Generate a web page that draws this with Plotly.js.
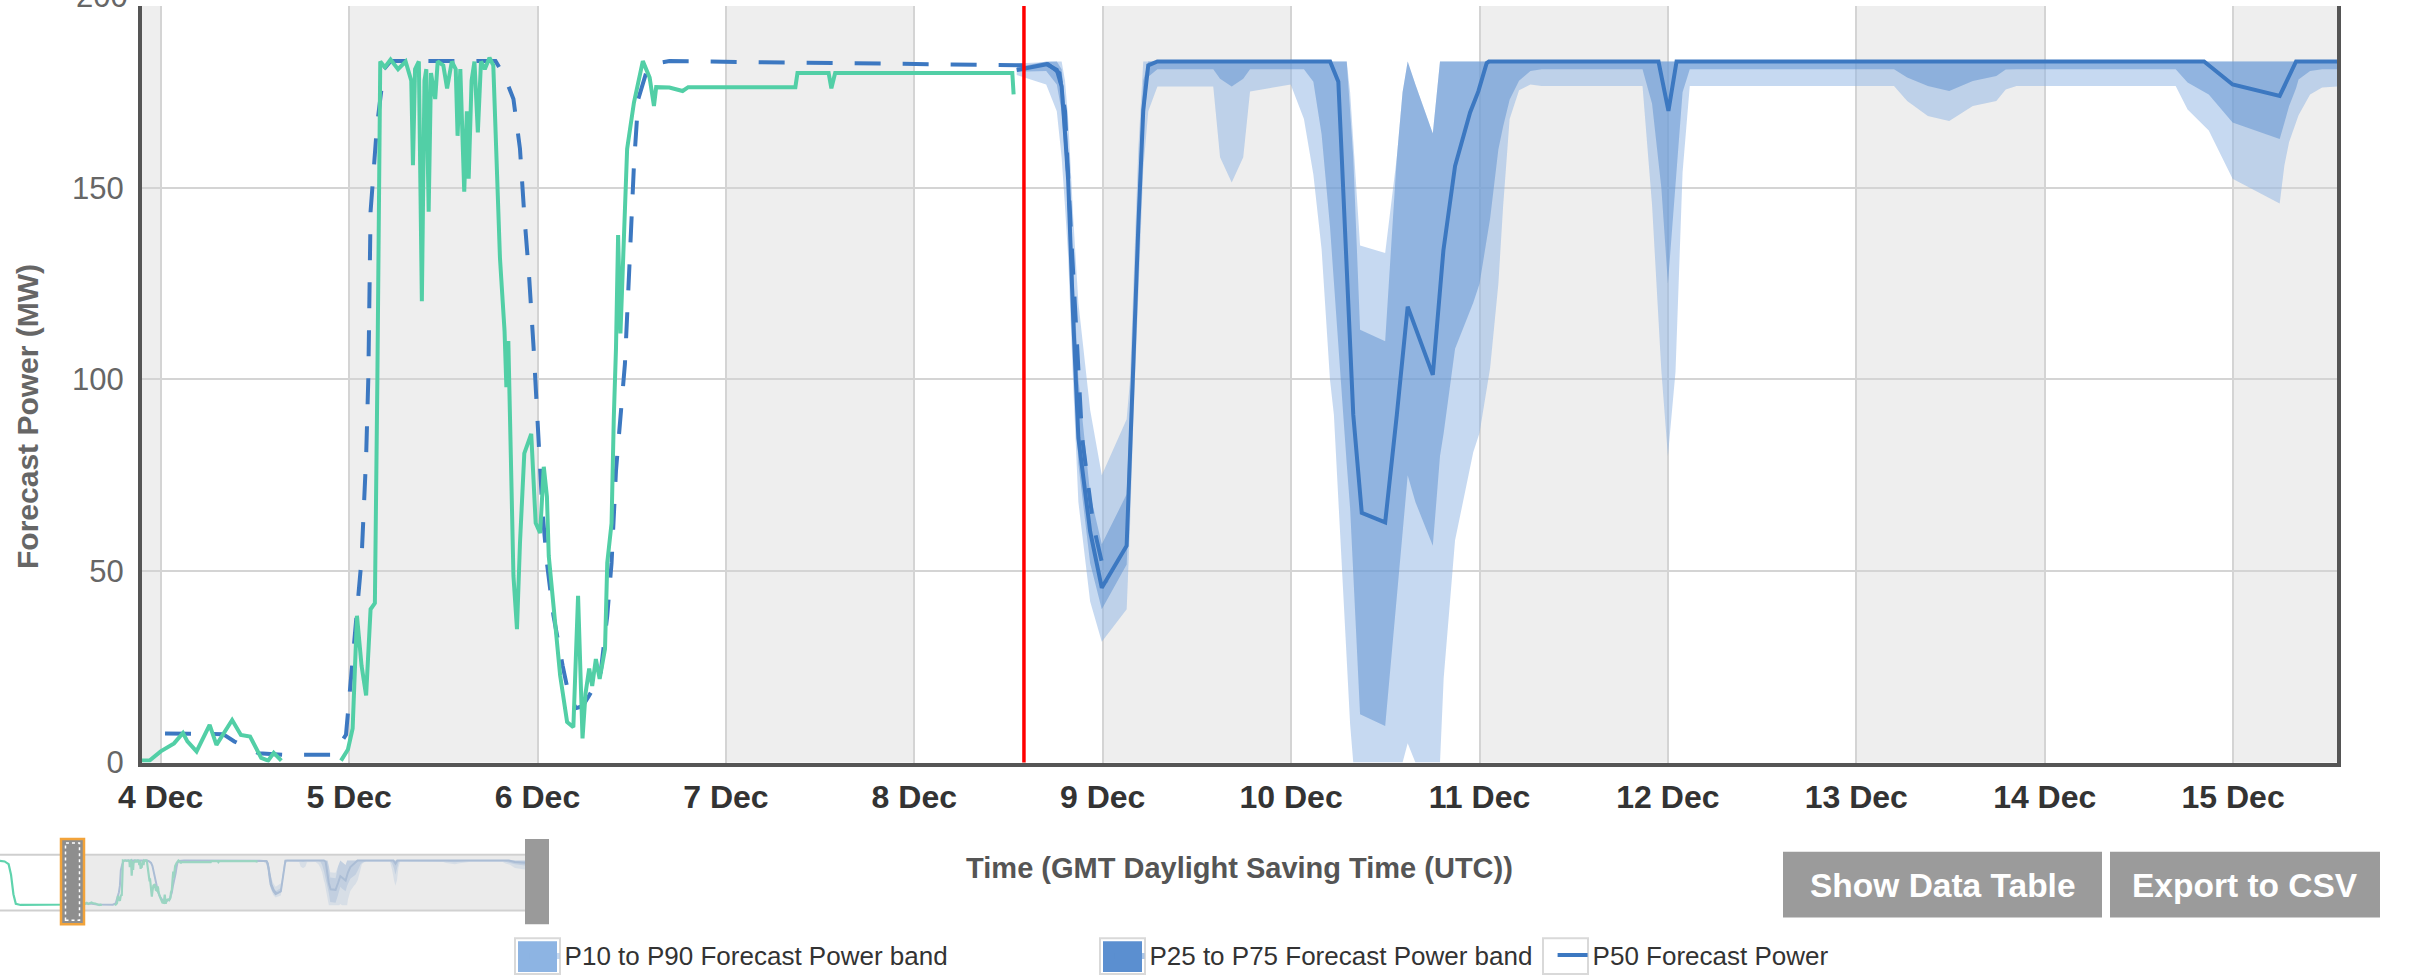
<!DOCTYPE html>
<html>
<head>
<meta charset="utf-8">
<script src="https://cdn.plot.ly/plotly-3.0.1.min.js"></script>
<style>
html,body{margin:0;padding:0;background:#ffffff;}
#chart{width:2432px;height:979px;}
</style>
</head>
<body>
<div id="chart"></div>
<script>
// ---------------- DATA ----------------
// Actual measured power (green line)
const actualTimes = [
 "2023-12-02 02:00","2023-12-02 04:48","2023-12-02 07:12","2023-12-02 08:38","2023-12-02 10:05","2023-12-02 11:31","2023-12-02 14:24","2023-12-03 00:00","2023-12-03 12:00","2023-12-03 22:35",
 "2023-12-04 00:00","2023-12-04 01:42","2023-12-04 02:50","2023-12-04 03:24","2023-12-04 04:34","2023-12-04 06:14","2023-12-04 07:06","2023-12-04 09:06","2023-12-04 10:13","2023-12-04 11:23",
 "2023-12-04 12:48","2023-12-04 13:41","2023-12-04 14:24","2023-12-04 15:22","2023-12-04 19:12","2023-12-04 22:58","2023-12-04 23:51","2023-12-05 00:27","2023-12-05 01:00","2023-12-05 01:35",
 "2023-12-05 02:10","2023-12-05 02:44","2023-12-05 03:17","2023-12-05 03:36","2023-12-05 03:58","2023-12-05 04:34","2023-12-05 05:17","2023-12-05 06:14","2023-12-05 07:12","2023-12-05 07:55",
 "2023-12-05 08:08","2023-12-05 08:24","2023-12-05 08:53","2023-12-05 09:16","2023-12-05 09:36","2023-12-05 09:50","2023-12-05 10:08","2023-12-05 10:26","2023-12-05 10:58","2023-12-05 11:17",
 "2023-12-05 12:00","2023-12-05 12:29","2023-12-05 13:05","2023-12-05 13:35","2023-12-05 13:49","2023-12-05 14:10","2023-12-05 14:40","2023-12-05 15:00","2023-12-05 15:14","2023-12-05 15:36",
 "2023-12-05 15:58","2023-12-05 16:24","2023-12-05 16:48","2023-12-05 17:17","2023-12-05 17:53","2023-12-05 18:22","2023-12-05 19:13","2023-12-05 19:48","2023-12-05 20:02","2023-12-05 20:17",
 "2023-12-05 20:31","2023-12-05 20:56","2023-12-05 21:23","2023-12-05 21:46","2023-12-05 22:19","2023-12-05 23:12","2023-12-05 23:46","2023-12-06 00:20","2023-12-06 00:48","2023-12-06 01:12",
 "2023-12-06 01:26","2023-12-06 02:20","2023-12-06 02:53","2023-12-06 03:46","2023-12-06 04:34","2023-12-06 05:10","2023-12-06 05:44","2023-12-06 06:07","2023-12-06 06:35","2023-12-06 06:58",
 "2023-12-06 07:26","2023-12-06 07:55","2023-12-06 08:36","2023-12-06 08:53","2023-12-06 09:26","2023-12-06 09:43","2023-12-06 10:00","2023-12-06 10:16","2023-12-06 10:34","2023-12-06 11:25",
 "2023-12-06 12:17","2023-12-06 13:25","2023-12-06 14:17","2023-12-06 14:50","2023-12-06 15:07","2023-12-06 16:48","2023-12-06 18:29","2023-12-06 19:12","2023-12-07 08:51","2023-12-07 09:07",
 "2023-12-07 13:05","2023-12-07 13:26","2023-12-07 13:55","2023-12-08 12:29","2023-12-08 12:39"
];
const actualPower = [
 181,179,168,125,45,6,1,1.5,1,0.5,
 2.9,5,7.7,5.5,2.9,9.8,4.6,11.1,7.2,6.8,
 1.2,0.5,2.5,0.5,null,0.5,3.4,8.9,38.3,25.3,
 17.5,40,41.6,100,183,181.5,183.5,181,183,178,
 155.9,181,183,120.4,178,181,143.8,180,173.2,183,
 182,176,183,181,163.6,181,149,170,152.4,178,
 183,164.5,183,181,184,182,131.7,112.7,98,110,
 85,48.7,34.8,57.3,80.7,85.8,62.5,59.9,77.2,69.4,
 53.9,33.1,22.7,10.6,9.2,43.5,6.3,18,24.5,20,
 27,21.8,29.7,52.1,62.5,90,108.3,137.7,112,160.2,
 172.3,183.1,178.8,171.4,176.3,176.2,175.3,176.3,176.3,180,
 180,176,180,180,174.4
];

// Earlier P50 forecast (dashed blue line)
const prevTimes = [
 "2023-12-04 00:33","2023-12-04 07:57","2023-12-04 09:23","2023-12-04 12:29","2023-12-04 15:50","2023-12-04 21:53","2023-12-04 23:36","2023-12-05 00:10","2023-12-05 01:00","2023-12-05 01:35",
 "2023-12-05 02:10","2023-12-05 02:27","2023-12-05 02:44","2023-12-05 03:33","2023-12-05 04:26","2023-12-05 05:17","2023-12-05 18:39","2023-12-05 19:48","2023-12-05 20:56","2023-12-05 21:46",
 "2023-12-05 22:19","2023-12-05 22:55","2023-12-05 23:30","2023-12-05 23:46","2023-12-06 00:20","2023-12-06 00:37","2023-12-06 01:12","2023-12-06 02:02","2023-12-06 03:12","2023-12-06 04:00",
 "2023-12-06 04:54","2023-12-06 05:44","2023-12-06 06:35","2023-12-06 08:00","2023-12-06 08:53","2023-12-06 09:26","2023-12-06 10:00","2023-12-06 10:34","2023-12-06 11:08","2023-12-06 11:43",
 "2023-12-06 12:17","2023-12-06 12:50","2023-12-06 13:59","2023-12-06 15:07","2023-12-06 16:48","2023-12-08 14:24","2023-12-08 17:02","2023-12-08 18:29","2023-12-08 19:12","2023-12-08 19:55",
 "2023-12-08 20:38","2023-12-08 21:22","2023-12-08 22:48","2023-12-09 00:29"
];
const prevPower = [
 7.6,7.4,5.5,2.4,2,2,7.2,20,40,53,
 79.8,100.5,143.8,166.2,181,183.1,183.1,179.2,173.2,160.2,
 142.9,127.3,108.3,97,77.2,66,52.1,38.3,25.3,17.5,
 14.2,14.7,17.5,22.7,38.3,52.1,76.3,91.9,104,130,
 155.9,173.2,181,182.5,183.1,182,182.3,180,170,140,
 112,85,62,47
];

// P50 forecast (solid blue line)
const p50Times = [
 "2023-12-08 13:03","2023-12-08 16:52","2023-12-08 18:09","2023-12-08 18:46","2023-12-08 19:12","2023-12-08 19:36","2023-12-08 20:15","2023-12-08 20:54","2023-12-08 22:24","2023-12-08 23:53",
 "2023-12-09 03:03","2023-12-09 03:29","2023-12-09 03:53","2023-12-09 04:32","2023-12-09 05:10","2023-12-09 05:48","2023-12-09 06:58","2023-12-10 04:58","2023-12-10 06:01","2023-12-10 06:27",
 "2023-12-10 07:05","2023-12-10 07:55","2023-12-10 09:00","2023-12-10 11:59","2023-12-10 13:28","2023-12-10 14:51","2023-12-10 18:03","2023-12-10 19:24","2023-12-10 20:53","2023-12-10 22:48",
 "2023-12-10 23:51","2023-12-11 00:55","2023-12-11 01:12","2023-12-11 22:48","2023-12-12 00:04","2023-12-12 01:06","2023-12-14 20:18","2023-12-14 23:56","2023-12-15 05:56","2023-12-15 08:01",
 "2023-12-15 14:24"
];
const p50 = [
 180.8,182.3,180.8,176.5,164.2,152,115.3,84.7,60.3,45.6,
 56.6,78.6,103,139.8,170.4,182,183,183,177.7,158.1,
 127.5,90.8,65.2,62.7,90.8,119,101.2,133.7,155.7,169.7,
 175.2,182.6,183,183,170.1,183,183,177,174,183,
 183
];

// Forecast bands (P10, P25, P75, P90) on one time grid
const bandTimes = [
 "2023-12-08 13:03","2023-12-08 16:48","2023-12-08 18:09","2023-12-08 18:46","2023-12-08 19:12","2023-12-08 19:36","2023-12-08 20:15","2023-12-08 20:54","2023-12-08 22:24","2023-12-08 23:53",
 "2023-12-09 03:03","2023-12-09 03:29","2023-12-09 03:53","2023-12-09 04:32","2023-12-09 05:10","2023-12-09 05:48","2023-12-09 06:58","2023-12-09 14:05","2023-12-09 14:57","2023-12-09 16:26",
 "2023-12-09 17:54","2023-12-09 18:46","2023-12-09 23:57","2023-12-10 01:38","2023-12-10 02:50","2023-12-10 03:53","2023-12-10 04:57","2023-12-10 05:27","2023-12-10 06:14","2023-12-10 07:05",
 "2023-12-10 07:31","2023-12-10 07:55","2023-12-10 08:47","2023-12-10 11:59","2023-12-10 13:28","2023-12-10 14:12","2023-12-10 14:51","2023-12-10 15:50","2023-12-10 18:03","2023-12-10 18:58",
 "2023-12-10 19:26","2023-12-10 20:53","2023-12-10 23:12","2023-12-11 00:00","2023-12-11 01:21","2023-12-11 02:24","2023-12-11 03:00","2023-12-11 03:50","2023-12-11 05:02","2023-12-11 06:29",
 "2023-12-11 07:55","2023-12-11 20:46","2023-12-11 21:59","2023-12-11 23:10","2023-12-12 00:00","2023-12-12 00:58","2023-12-12 01:52","2023-12-12 02:47","2023-12-13 04:48","2023-12-13 06:29",
 "2023-12-13 09:07","2023-12-13 11:50","2023-12-13 14:50","2023-12-13 17:50","2023-12-13 19:02","2023-12-13 20:24","2023-12-14 16:41","2023-12-14 18:12","2023-12-14 20:54","2023-12-14 23:56",
 "2023-12-15 05:56","2023-12-15 06:32","2023-12-15 07:08","2023-12-15 08:01","2023-12-15 08:20","2023-12-15 09:48","2023-12-15 10:42","2023-12-15 11:20","2023-12-15 14:24"
];
const p10 = [
 179.5,177,170,158,145,132,98,68,42,31.5,
 40,62,88,122,155,170,176.5,176.5,158,151.4,
 158,175.2,177,168,153.5,134,100,90.8,60,25,
 10,0,0,0,0,0,5,0,0,0,
 22,58,81,86,103,125,145,168,175.5,177,
 176.6,176.6,145.5,102.3,80,102,154,176.6,176.6,172.7,
 168.8,167.5,171.4,172.7,175.7,176.6,176.6,170.5,165,152.4,
 145.9,155.9,162,167.1,169,174.4,175.5,176.2,176.6
];
const p25 = [
 180.3,180.5,177,170,158,145,108,78,52,40,
 51.7,72,97,132,165,179,181,181,178.5,176.5,
 178.5,181,181,181,177.7,164,140,125,103,78,
 66.4,50,12.6,9.5,42,60,75,68,56.6,80,
 86,108,120,125,142,160,166,173,178,180.5,
 181,181,172,150,125,150,175,181,181,178.8,
 176.6,175.3,177.9,179.2,180.9,181,181,177.5,174.4,167.1,
 162.8,167,171.4,176,178.3,180.5,180.9,181,181
];
const p75 = [
 181.5,183,183,181,172,160,128,100,70,57,
 70,90,112,150,178,183,183,183,183,183,
 183,183,183,183,183,183,183,183,183,183,
 170,158,113,110,158,175,183,177,164.2,183,
 183,183,183,183,183,183,183,183,183,183,
 183,183,183,183,183,183,183,183,183,183,
 183,183,183,183,183,183,183,183,183,183,
 183,183,183,183,183,183,183,183,183
];
const p90 = [
 182.5,183,183,183,178,168,142,120,92,75,
 89.6,100,122,160,183,183,183,183,183,183,
 183,183,183,183,183,183,183,183,183,183,
 175,162,135,133,158,175,183,177,164.2,183,
 183,183,183,183,183,183,183,183,183,183,
 183,183,183,183,183,183,183,183,183,183,
 183,183,183,183,183,183,183,183,183,183,
 183,183,183,183,183,183,183,183,183
];

const yTicks = [0, 50, 100, 150];
const hiddenTopTick = 200;
const nowTime = "2023-12-08 13:58";
const viewStart = "2023-12-03 21:37";
const viewEnd = "2023-12-15 13:14";
const navStart = "2023-12-02 02:00";
const firstShadedDay = "2023-12-03";
const legendLabels = ["P10 to P90 Forecast Power band", "P25 to P75 Forecast Power band", "P50 Forecast Power"];
const buttonLabels = ["Show Data Table", "Export to CSV"];
const xTitle = "Time (GMT Daylight Saving Time (UTC))";
const yTitle = "Forecast Power (MW)";

// ---------------- LAYOUT GEOMETRY / STYLE ----------------
const W = 2432, H = 979;
const fx = p => p / W;
const fy = p => 1 - p / H;
const FONT = '"Liberation Sans", Arial, Helvetica, sans-serif';
const plotBox = {l: 142, r: 2337, t: 6, b: 768};
const navBox = {l: 0, r: 537, t: 861, b: 917};
const yTop = 197.5;
const C = {
  actual: '#52cfa6',
  fc: '#3c78c1',
  band90: 'rgba(141,180,227,0.5)', band90Solid: '#8db4e3',
  band75: 'rgba(91,143,208,0.5)', band75Solid: '#5b8fd0',
  stripe: '#eeeeee', grid: '#d4d4d4', axis: '#555555', now: '#ff0000'
};

// ---------------- TRACES ----------------
const lineOnly = {type: 'scatter', mode: 'lines', hoverinfo: 'skip'};
const traces = [
  Object.assign({}, lineOnly, {x: bandTimes, y: p10, line: {width: 0, color: C.band90Solid}, showlegend: false, name: 'P10'}),
  Object.assign({}, lineOnly, {x: bandTimes, y: p90, line: {width: 0, color: C.band90Solid}, fill: 'tonexty', fillcolor: C.band90,
    name: legendLabels[0], legend: 'legend'}),
  Object.assign({}, lineOnly, {x: bandTimes, y: p25, line: {width: 0, color: C.band75Solid}, showlegend: false, name: 'P25'}),
  Object.assign({}, lineOnly, {x: bandTimes, y: p75, line: {width: 0, color: C.band75Solid}, fill: 'tonexty', fillcolor: C.band75,
    name: legendLabels[1], legend: 'legend2'}),
  Object.assign({}, lineOnly, {x: prevTimes, y: prevPower, line: {color: C.fc, width: 4, dash: '26px,22px'}, showlegend: false, name: 'Previous P50 Forecast'}),
  Object.assign({}, lineOnly, {x: actualTimes, y: actualPower, line: {color: C.actual, width: 4}, showlegend: false, name: 'Actual Power'}),
  Object.assign({}, lineOnly, {x: p50Times, y: p50, line: {color: C.fc, width: 4}, name: legendLabels[2], legend: 'legend3'})
];
// navigator (mini chart)
const nav = {xaxis: 'x2', yaxis: 'y2', showlegend: false};
traces.push(
  Object.assign({}, lineOnly, nav, {x: bandTimes, y: p10, line: {width: 0}}),
  Object.assign({}, lineOnly, nav, {x: bandTimes, y: p90, line: {width: 0}, fill: 'tonexty', fillcolor: 'rgba(141,180,227,0.35)'}),
  Object.assign({}, lineOnly, nav, {x: bandTimes, y: p25, line: {width: 0}}),
  Object.assign({}, lineOnly, nav, {x: bandTimes, y: p75, line: {width: 0}, fill: 'tonexty', fillcolor: 'rgba(91,143,208,0.35)'}),
  Object.assign({}, lineOnly, nav, {x: prevTimes, y: prevPower, line: {color: '#7ea2d3', width: 2}}),
  Object.assign({}, lineOnly, nav, {x: actualTimes, y: actualPower, line: {color: '#5fd3ad', width: 2.2}}),
  Object.assign({}, lineOnly, nav, {x: p50Times, y: p50, line: {color: '#7ea2d3', width: 2}})
);

// ---------------- SHAPES ----------------
const shapes = [];
// alternate day shading
const dayMs = 86400000;
const endMs = Date.parse(viewEnd.replace(' ', 'T') + 'Z');
const iso = ms => new Date(ms).toISOString().slice(0, 16).replace('T', ' ');
for (let d = Date.parse(firstShadedDay + 'T00:00Z'); d < endMs; d += 2 * dayMs) {
  shapes.push({type: 'rect', xref: 'x', yref: 'y domain', x0: iso(d), x1: iso(d + dayMs), y0: 0, y1: 1,
    fillcolor: C.stripe, line: {width: 0}, layer: 'below'});
}
// "now" line
shapes.push({type: 'line', xref: 'x', yref: 'y domain', x0: nowTime, x1: nowTime, y0: 0, y1: 1,
  line: {color: C.now, width: 3.5}, layer: 'above'});
// navigator frame, mask and handles
shapes.push(
  {type: 'line', xref: 'paper', yref: 'paper', x0: fx(navBox.l), x1: fx(525), y0: fy(navBox.t), y1: fy(navBox.t), line: {color: '#cfcfcf', width: 2}},
  {type: 'line', xref: 'paper', yref: 'paper', x0: fx(navBox.l), x1: fx(525), y0: fy(navBox.b), y1: fy(navBox.b), line: {color: '#cfcfcf', width: 2}},
  {type: 'rect', xref: 'x2', yref: 'y2 domain', x0: viewStart, x1: viewEnd, y0: 0, y1: 1, fillcolor: 'rgba(215,215,215,0.5)', line: {width: 0}, layer: 'above'},
  {type: 'rect', xref: 'paper', yref: 'paper', x0: fx(61), x1: fx(84), y0: fy(931), y1: fy(845), fillcolor: '#8e8e8e', line: {color: '#f2a33a', width: 2.5}},
  {type: 'rect', xref: 'paper', yref: 'paper', x0: fx(65.5), x1: fx(79.5), y0: fy(927), y1: fy(849), fillcolor: 'rgba(0,0,0,0)', line: {color: '#ffffff', width: 1.5, dash: 'dot'}},
  {type: 'rect', xref: 'paper', yref: 'paper', x0: fx(525), x1: fx(549), y0: fy(931), y1: fy(845), fillcolor: '#9a9a9a', line: {width: 0}}
);
// buttons
const buttons = [{l: 1783, r: 2102}, {l: 2110, r: 2380}];
buttons.forEach(b => shapes.push({type: 'rect', xref: 'paper', yref: 'paper', x0: fx(b.l), x1: fx(b.r), y0: fy(924), y1: fy(858),
  fillcolor: '#9b9b9b', line: {width: 0}}));
// legend swatch boxes
const legendX = [524.6, 1109.4, 1552.6];
const boxX = [515, 1100, 1543];
const boxFill = [C.band90Solid, C.band75Solid, null];
boxX.forEach((x, i) => {
  shapes.push({type: 'rect', xref: 'paper', yref: 'paper', x0: fx(x), x1: fx(x + 45), y0: fy(981), y1: fy(945),
    fillcolor: '#ffffff', line: {color: '#d9d9d9', width: 2}});
  if (boxFill[i]) shapes.push({type: 'rect', xref: 'paper', yref: 'paper', x0: fx(x + 3), x1: fx(x + 42), y0: fy(979), y1: fy(948),
    fillcolor: boxFill[i], line: {width: 0}});
});

// ---------------- ANNOTATIONS ----------------
const px200 = plotBox.b - (hiddenTopTick / yTop) * (plotBox.b - plotBox.t);
const annotations = [
  {xref: 'paper', yref: 'paper', x: fx(28), y: fy(420), text: yTitle, textangle: -90, showarrow: false,
   xanchor: 'center', yanchor: 'middle', font: {family: FONT, size: 30, color: '#666666', weight: 'bold'}},
  {xref: 'paper', yref: 'paper', x: fx(plotBox.l - 12), y: fy(px200), text: String(hiddenTopTick), showarrow: false,
   xanchor: 'right', yanchor: 'middle', font: {family: FONT, size: 31, color: '#666666'}}
];
buttons.forEach((b, i) => annotations.push({xref: 'paper', yref: 'paper', x: fx((b.l + b.r) / 2), y: fy(892), text: buttonLabels[i],
  showarrow: false, xanchor: 'center', yanchor: 'middle', font: {family: FONT, size: 33.5, color: '#ffffff', weight: 'bold'}}));

const legendBase = {orientation: 'h', xanchor: 'left', yanchor: 'middle', y: fy(962), bgcolor: 'rgba(0,0,0,0)',
  borderwidth: 0, font: {family: FONT, size: 26, color: '#333333'}, itemclick: false, itemdoubleclick: false};

const layout = {
  width: W, height: H,
  margin: {l: 0, r: 0, t: 0, b: 0, pad: 0},
  paper_bgcolor: '#ffffff', plot_bgcolor: 'rgba(0,0,0,0)',
  font: {family: FONT, color: '#333333'},
  showlegend: true,
  hovermode: false,
  xaxis: {
    type: 'date', domain: [fx(plotBox.l), fx(plotBox.r)], range: [viewStart, viewEnd], anchor: 'y',
    tick0: '2023-12-04', dtick: dayMs, tickformat: '%-d %b',
    showgrid: true, gridcolor: C.grid, gridwidth: 2, zeroline: false,
    showline: true, linecolor: C.axis, linewidth: 4, ticks: '',
    tickfont: {family: FONT, size: 32, color: '#333333', weight: 'bold'}, ticklabelstandoff: 3,
    title: {text: xTitle, font: {family: FONT, size: 29, color: '#555555', weight: 'bold'}, standoff: 45},
    automargin: false, fixedrange: true
  },
  yaxis: {
    domain: [fy(plotBox.b), fy(plotBox.t)], range: [0, yTop], anchor: 'x',
    tickmode: 'array', tickvals: yTicks, ticktext: yTicks.map(String),
    showgrid: true, gridcolor: C.grid, gridwidth: 2, zeroline: false,
    showline: true, mirror: true, linecolor: C.axis, linewidth: 4, ticks: '',
    tickfont: {family: FONT, size: 31, color: '#666666'}, ticklabelstandoff: 8,
    automargin: false, fixedrange: true
  },
  xaxis2: {type: 'date', domain: [fx(navBox.l), fx(navBox.r)], range: [navStart, viewEnd], anchor: 'y2', visible: false, fixedrange: true},
  yaxis2: {domain: [fy(navBox.b), fy(navBox.t)], range: [-21.5, 206], anchor: 'x2', visible: false, fixedrange: true},
  legend: Object.assign({}, legendBase, {x: fx(legendX[0])}),
  legend2: Object.assign({}, legendBase, {x: fx(legendX[1])}),
  legend3: Object.assign({}, legendBase, {x: fx(legendX[2])}),
  shapes: shapes,
  annotations: annotations
};

Plotly.newPlot('chart', traces, layout, {displayModeBar: false, staticPlot: true, responsive: false});
</script>
</body>
</html>
